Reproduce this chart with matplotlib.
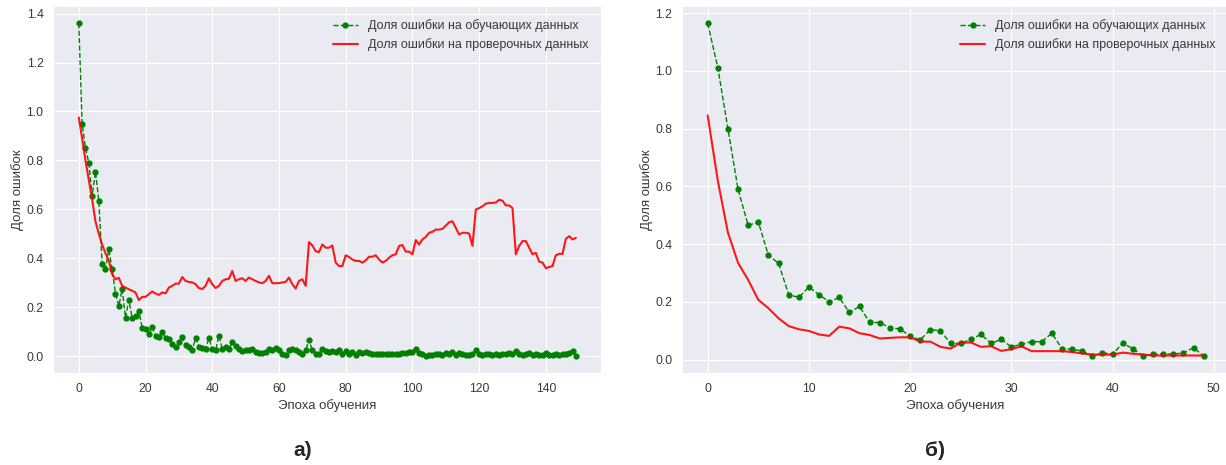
import matplotlib
matplotlib.use("Agg")
import matplotlib.pyplot as plt
import numpy as np

plt.style.use("seaborn-v0_8-darkgrid")
plt.rcParams["font.family"] = ["Liberation Sans", "DejaVu Sans"]

# --- panel a): 150 epochs ---
train_a = [
    1.36, 0.95, 0.85, 0.79, 0.655, 0.754, 0.635, 0.375, 0.357, 0.436,
    0.355, 0.255, 0.205, 0.274, 0.156, 0.23, 0.156, 0.163, 0.186, 0.114,
    0.109, 0.091, 0.118, 0.082, 0.078, 0.098, 0.073, 0.071, 0.05, 0.037,
    0.057, 0.078, 0.044, 0.039, 0.026, 0.073, 0.037, 0.033, 0.03, 0.073,
    0.03, 0.023, 0.084, 0.03, 0.037, 0.027, 0.057, 0.04, 0.027, 0.019,
    0.023, 0.023, 0.027, 0.017, 0.012, 0.012, 0.017, 0.027, 0.023, 0.033,
    0.023, 0.01, 0.006, 0.023, 0.03, 0.023, 0.017, 0.01, 0.023, 0.067,
    0.023, 0.01, 0.01, 0.03, 0.019, 0.017, 0.019, 0.017, 0.023, 0.01,
    0.019, 0.01, 0.017, 0.006, 0.017, 0.014, 0.017, 0.012, 0.01, 0.01,
    0.01, 0.01, 0.01, 0.01, 0.01, 0.01, 0.01, 0.012, 0.012, 0.017,
    0.015, 0.03, 0.014, 0.01, 0.0, 0.003, 0.006, 0.01, 0.01, 0.006,
    0.014, 0.01, 0.017, 0.006, 0.014, 0.01, 0.006, 0.006, 0.01, 0.023,
    0.01, 0.003, 0.008, 0.01, 0.006, 0.01, 0.006, 0.01, 0.01, 0.014,
    0.01, 0.019, 0.01, 0.006, 0.01, 0.014, 0.006, 0.01, 0.006, 0.006,
    0.014, 0.003, 0.006, 0.01, 0.006, 0.01, 0.01, 0.014, 0.019, 0.0,
]
val_a = [
    0.975, 0.89, 0.80, 0.72, 0.64, 0.55, 0.50, 0.455, 0.42, 0.39,
    0.334, 0.314, 0.32, 0.287, 0.28, 0.273, 0.267, 0.26, 0.229, 0.242,
    0.242, 0.253, 0.264, 0.256, 0.25, 0.26, 0.256, 0.28, 0.287, 0.296,
    0.296, 0.323, 0.307, 0.303, 0.301, 0.294, 0.278, 0.274, 0.287, 0.318,
    0.294, 0.278, 0.287, 0.307, 0.314, 0.316, 0.348, 0.307, 0.314, 0.318,
    0.307, 0.321, 0.314, 0.307, 0.301, 0.298, 0.307, 0.328, 0.298, 0.298,
    0.298, 0.301, 0.303, 0.321, 0.294, 0.276, 0.307, 0.314, 0.287, 0.466,
    0.452, 0.429, 0.425, 0.456, 0.443, 0.443, 0.452, 0.382, 0.368, 0.368,
    0.412, 0.405, 0.395, 0.389, 0.389, 0.382, 0.391, 0.406, 0.406, 0.412,
    0.395, 0.382, 0.389, 0.402, 0.412, 0.416, 0.45, 0.454, 0.427, 0.427,
    0.416, 0.474, 0.456, 0.477, 0.487, 0.504, 0.508, 0.517, 0.517, 0.52,
    0.533, 0.547, 0.551, 0.524, 0.497, 0.504, 0.504, 0.501, 0.45, 0.599,
    0.605, 0.612, 0.623, 0.626, 0.626, 0.628, 0.639, 0.635, 0.616, 0.616,
    0.605, 0.416, 0.45, 0.47, 0.47, 0.443, 0.416, 0.422, 0.386, 0.382,
    0.359, 0.364, 0.368, 0.412, 0.418, 0.418, 0.479, 0.49, 0.477, 0.483,
]

# --- panel б): 50 epochs ---
train_b = [
    1.165, 1.012, 0.80, 0.59, 0.465, 0.477, 0.361, 0.334, 0.225, 0.215,
    0.251, 0.225, 0.20, 0.215, 0.163, 0.184, 0.129, 0.128, 0.11, 0.106,
    0.081, 0.068, 0.104, 0.099, 0.056, 0.056, 0.07, 0.087, 0.056, 0.07,
    0.044, 0.053, 0.062, 0.062, 0.091, 0.038, 0.035, 0.03, 0.012, 0.023,
    0.019, 0.056, 0.038, 0.012, 0.019, 0.019, 0.019, 0.023, 0.041, 0.012,
]
val_b = [
    0.846, 0.62, 0.44, 0.335, 0.276, 0.207, 0.178, 0.143, 0.116, 0.105,
    0.099, 0.087, 0.082, 0.114, 0.108, 0.091, 0.085, 0.073, 0.075, 0.077,
    0.077, 0.062, 0.062, 0.044, 0.038, 0.058, 0.059, 0.044, 0.046, 0.03,
    0.036, 0.046, 0.029, 0.029, 0.029, 0.029, 0.026, 0.021, 0.017, 0.017,
    0.017, 0.024, 0.02, 0.017, 0.014, 0.014, 0.014, 0.014, 0.014, 0.014,
]

panel_labels = ["а)", "б)"]
text_col = "#3a3a3a"

fig = plt.figure(figsize=(12.26, 4.65), dpi=100)
ax_a = fig.add_axes([0.044, 0.1985, 0.446, 0.787])
ax_b = fig.add_axes([0.557, 0.1985, 0.445, 0.787])

for ax, tr, va in [(ax_a, train_a, val_a), (ax_b, train_b, val_b)]:
    ep = np.arange(len(tr))
    ax.plot(ep, tr, "o--", color="green", markersize=3.5, linewidth=1,
            label="Доля ошибки на обучающих данных")
    ax.plot(ep, va, color="red", linewidth=1.5, alpha=0.9,
            label="Доля ошибки на проверочных данных")
    ax.set_xlabel("Эпоха обучения", fontsize=9.5, color=text_col, labelpad=3)
    ax.set_ylabel("Доля ошибок", fontsize=9.5, color=text_col, labelpad=2)
    ax.tick_params(labelsize=8.8, labelcolor=text_col, pad=7.5)
    leg = ax.legend(loc="upper right", fontsize=9, borderaxespad=0.6)
    for t in leg.get_texts():
        t.set_color(text_col)

ax_a.set_xticks(np.arange(0, 141, 20))
ax_b.set_xticks(np.arange(0, 51, 10))

fig.text(0.247, 0.032, panel_labels[0], ha="center", va="center",
         fontsize=15, fontweight="bold")
fig.text(0.763, 0.032, panel_labels[1], ha="center", va="center",
         fontsize=15, fontweight="bold")

fig.savefig("out.png", dpi=100)
